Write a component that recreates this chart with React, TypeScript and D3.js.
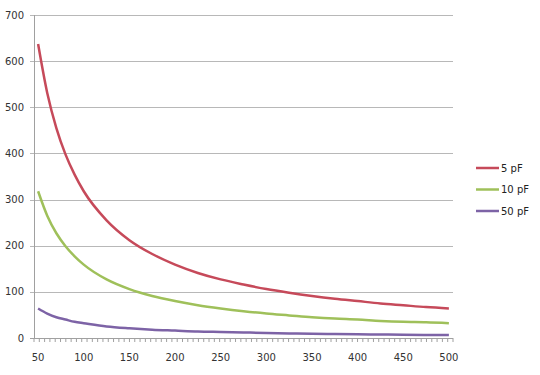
import React, { useRef, useEffect } from "react";
import * as d3 from "d3";

// frequencies
const freqs = [50, 60, 70, 80, 90, 100, 125, 150, 175, 200, 225, 250, 275, 300, 325, 350, 375, 400, 425, 450, 475, 500];
const pf5 = [637, 531, 455, 398, 354, 318, 255, 212, 182, 159, 141, 127, 116, 106, 98, 91, 85, 80, 75, 71, 67, 64];
const pf10 = [318, 265, 227, 199, 177, 159, 127, 106, 91, 80, 71, 64, 58, 53, 49, 45, 42, 40, 37, 35, 34, 32];
const pf50 = [64, 53, 45, 40, 35, 32, 25, 21, 18, 16, 14, 13, 12, 11, 10, 9, 8.5, 8, 7.5, 7, 6.7, 6.4];
const seriesNames = ["5 pF", "10 pF", "50 pF"];
const seriesColors = ["#c64a5a", "#9fc05a", "#7d63a6"];
const xTicks = [50, 100, 150, 200, 250, 300, 350, 400, 450, 500];
const yTicks = [0, 100, 200, 300, 400, 500, 600, 700];

const App = () => {
  const svgRef = useRef<SVGSVGElement>(null);

  useEffect(() => {
    if (!svgRef.current) return;
    const svg = d3.select(svgRef.current);
    svg.selectAll("*").remove();

    const width = 540;
    const height = 375;
    const left = 34;
    const right = 453;
    const top = 15;
    const bottom = 338;

    const x = d3.scaleLinear([45.5, 504.5], [left, right]);
    const y = d3.scaleLinear([0, 700], [bottom, top]);

    svg.attr("width", width).attr("height", height).style("font-family", "DejaVu Sans, sans-serif");
    svg.append("rect").attr("width", width).attr("height", height).attr("fill", "white");

    // gridlines
    svg
      .append("g")
      .selectAll("line")
      .data(yTicks.filter((d) => d > 0))
      .join("line")
      .attr("x1", left - 4)
      .attr("x2", right)
      .attr("y1", (d) => Math.round(y(d)) + 0.5)
      .attr("y2", (d) => Math.round(y(d)) + 0.5)
      .attr("stroke", "#b8b8b8")
      .attr("stroke-width", 1.2);

    // y labels
    svg
      .append("g")
      .selectAll("text")
      .data(yTicks)
      .join("text")
      .attr("x", 24)
      .attr("y", (d) => y(d) + 3.5)
      .attr("text-anchor", "end")
      .attr("font-size", 10)
      .attr("fill", "#333")
      .text((d) => d);

    // axes lines
    svg
      .append("line")
      .attr("x1", left + 0.5)
      .attr("x2", left + 0.5)
      .attr("y1", top)
      .attr("y2", bottom)
      .attr("stroke", "#a0a0a0");
    svg
      .append("line")
      .attr("x1", left - 4)
      .attr("x2", right)
      .attr("y1", bottom + 0.5)
      .attr("y2", bottom + 0.5)
      .attr("stroke", "#a0a0a0");

    // minor ticks along x
    const nTicks = 79;
    svg
      .append("g")
      .selectAll("line")
      .data(d3.range(nTicks + 1).map((i) => 45.5 + (i * 459) / nTicks))
      .join("line")
      .attr("x1", (d) => x(d))
      .attr("x2", (d) => x(d))
      .attr("y1", bottom)
      .attr("y2", bottom + 4)
      .attr("stroke", "#a0a0a0");

    // x labels
    svg
      .append("g")
      .selectAll("text")
      .data(xTicks)
      .join("text")
      .attr("x", (d) => x(d))
      .attr("y", 361)
      .attr("text-anchor", "middle")
      .attr("font-size", 10)
      .attr("fill", "#333")
      .text((d) => d);

    // lines
    const all = [pf5, pf10, pf50];
    const line = d3
      .line<number>()
      .x((_, i) => x(freqs[i]))
      .y((d) => y(d))
      .curve(d3.curveMonotoneX);
    all.forEach((vals, k) => {
      svg
        .append("path")
        .attr("fill", "none")
        .attr("stroke", seriesColors[k])
        .attr("stroke-width", 2.5)
        .attr("d", line(vals));
    });

    // legend
    const legend = svg.append("g");
    seriesNames.forEach((name, k) => {
      const ly = 168 + k * 21.5;
      legend
        .append("line")
        .attr("x1", 476)
        .attr("x2", 499)
        .attr("y1", ly)
        .attr("y2", ly)
        .attr("stroke", seriesColors[k])
        .attr("stroke-width", 2.5);
      legend
        .append("text")
        .attr("x", 501)
        .attr("y", ly + 3.5)
        .attr("font-size", 10)
        .attr("fill", "#222")
        .text(name);
    });
  }, []);

  return <svg ref={svgRef} style={{ position: "absolute", left: 0, top: 0 }}></svg>;
};

export default App;
